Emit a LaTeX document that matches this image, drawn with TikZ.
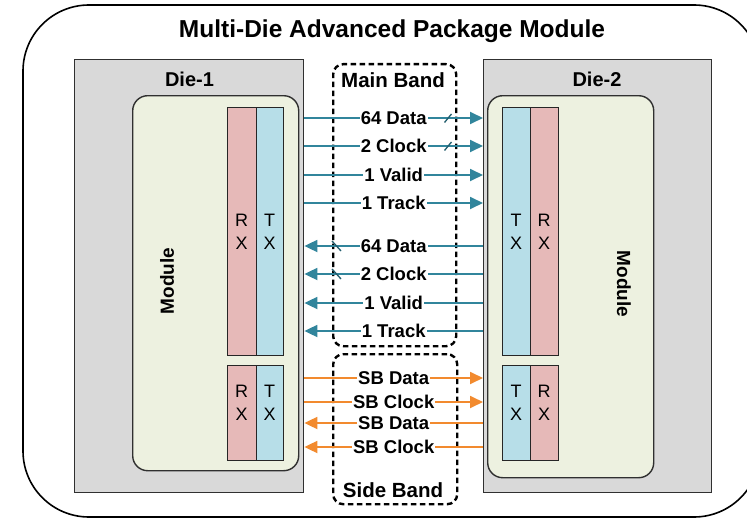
\documentclass[tikz,border=0pt]{standalone}
\usepackage{fontspec}
\setmainfont{Liberation Sans}
\usetikzlibrary{arrows.meta}
\definecolor{diegray}{HTML}{D9D9D9}
\definecolor{modfill}{HTML}{EDF1E0}
\definecolor{rxfill}{HTML}{E6B9B8}
\definecolor{txfill}{HTML}{B7DEE8}
\definecolor{tealc}{HTML}{31859C}
\definecolor{orangec}{HTML}{F28A2E}
\definecolor{edge}{HTML}{303030}
\tikzset{
  diebox/.style={draw=edge, line width=1.4pt, fill=diegray, anchor=north west, inner sep=0pt},
  modbox/.style={draw=edge, line width=1.4pt, fill=modfill, rounded corners=15pt, anchor=north west, inner sep=0pt},
  rxbox/.style={draw=black!85, line width=1.4pt, fill=rxfill, anchor=north west, inner sep=0pt},
  txbox/.style={draw=black!85, line width=1.4pt, fill=txfill, anchor=north west, inner sep=0pt},
  bandbox/.style={draw=black, line width=2.4pt, dash pattern=on 5.5pt off 3.5pt, rounded corners=10pt, anchor=north west, inner sep=0pt},
  lbl/.style={font=\fontsize{18.5}{20}\selectfont\bfseries, fill=white, inner sep=1pt},
  hdr/.style={font=\fontsize{20}{22}\selectfont\bfseries, inner sep=0pt},
  letter/.style={font=\fontsize{18}{23}\selectfont, align=center, inner sep=0pt},
  mainsig/.style={draw=tealc, line width=1.8pt, -{Triangle[length=13pt,width=12pt]}},
  sidesig/.style={draw=orangec, line width=1.8pt, -{Triangle[length=13pt,width=12pt]}},
  busmark/.style={draw=tealc!70!black, line width=1.3pt},
}
\begin{document}
\begin{tikzpicture}[x=1pt,y=-1pt]
\useasboundingbox (0,0) rectangle (747,519);
\fill[white] (0,0) rectangle (747,519);
\begin{scope}
\clip (0,0) rectangle (747,519);
\draw[line width=1.6pt, rounded corners=66pt] (23,5) rectangle (760,517);
\end{scope}
\node[font=\fontsize{24.5}{26}\selectfont\bfseries] (title) at (392,31) {Multi-Die Advanced Package Module};

% dies
\node[diebox, minimum width=229pt, minimum height=433pt] (d1) at (74,59) {};
\node[diebox, minimum width=228pt, minimum height=433pt] (d2) at (483,59) {};
\node[hdr] (d1lbl) at (189.5,79) {Die-1};
\node[hdr] (d2lbl) at (597,79) {Die-2};

% modules
\node[modbox, minimum width=166pt, minimum height=375pt] (m1) at (132,95) {};
\node[modbox, minimum width=166pt, minimum height=382pt] (m2) at (487,95) {};
\node[hdr, font=\fontsize{19}{21}\selectfont\bfseries, rotate=90] (m1lbl) at (167,281) {Module};
\node[hdr, font=\fontsize{19}{21}\selectfont\bfseries, rotate=-90] (m2lbl) at (624,284) {Module};

% die-1 RX/TX
\node[rxbox, minimum width=29pt, minimum height=248pt] (rx1) at (227,107) {};
\node[txbox, minimum width=27pt, minimum height=248pt] (tx1) at (256,107) {};
\node[rxbox, minimum width=29pt, minimum height=95pt] (rx1s) at (227,365) {};
\node[txbox, minimum width=27pt, minimum height=95pt] (tx1s) at (256,365) {};
\node[letter] (rx1t) at (241.5,232) {R\\X};
\node[letter] (tx1t) at (269.5,232) {T\\X};
\node[letter] (rx1st) at (241.5,403) {R\\X};
\node[letter] (tx1st) at (269.5,403) {T\\X};

% die-2 TX/RX
\node[txbox, minimum width=28pt, minimum height=248pt] (tx2) at (502,107) {};
\node[rxbox, minimum width=28pt, minimum height=248pt] (rx2) at (530,107) {};
\node[txbox, minimum width=28pt, minimum height=95pt] (tx2s) at (502,365) {};
\node[rxbox, minimum width=28pt, minimum height=95pt] (rx2s) at (530,365) {};
\node[letter] (tx2t) at (516,232) {T\\X};
\node[letter] (rx2t) at (544,232) {R\\X};
\node[letter] (tx2st) at (516,403) {T\\X};
\node[letter] (rx2st) at (544,403) {R\\X};

% bands
\node[bandbox, minimum width=123pt, minimum height=282pt] (mb) at (332,63) {};
\node[bandbox, minimum width=124pt, minimum height=150pt] (sb) at (332,353) {};
\node[hdr, font=\fontsize{20.5}{22}\selectfont\bfseries] (mblbl) at (393,80) {Main Band};
\node[hdr, font=\fontsize{20.5}{22}\selectfont\bfseries] (sblbl) at (393,490) {Side Band};

% main band forward
\foreach \yy/\txt/\nm in {118/64 Data/a, 146/2 Clock/b, 175/1 Valid/c, 203/1 Track/d}{
  \draw[mainsig] (d1.east |- 0,\yy) -- node[lbl] (f\nm) {\txt} (d2.west |- 0,\yy);
}
% main band reverse
\foreach \yy/\txt/\nm in {246/64 Data/a, 274/2 Clock/b, 303/1 Valid/c, 331/1 Track/d}{
  \draw[mainsig] (d2.west |- 0,\yy) -- node[lbl] (r\nm) {\txt} (d1.east |- 0,\yy);
}
% bus marks
\draw[busmark] (444.5,122.5) -- (451.5,114);
\draw[busmark] (444.5,150.5) -- (451.5,142);
\draw[busmark] (332,241) -- (341,251);
\draw[busmark] (332,269) -- (341,279);

% side band
\draw[sidesig] (d1.east |- 0,378) -- node[lbl] (sfa) {SB Data} (d2.west |- 0,378);
\draw[sidesig] (d1.east |- 0,402) -- node[lbl] (sfb) {SB Clock} (d2.west |- 0,402);
\draw[sidesig] (d2.west |- 0,423) -- node[lbl] (sra) {SB Data} (d1.east |- 0,423);
\draw[sidesig] (d2.west |- 0,447) -- node[lbl] (srb) {SB Clock} (d1.east |- 0,447);
\end{tikzpicture}
\end{document}
